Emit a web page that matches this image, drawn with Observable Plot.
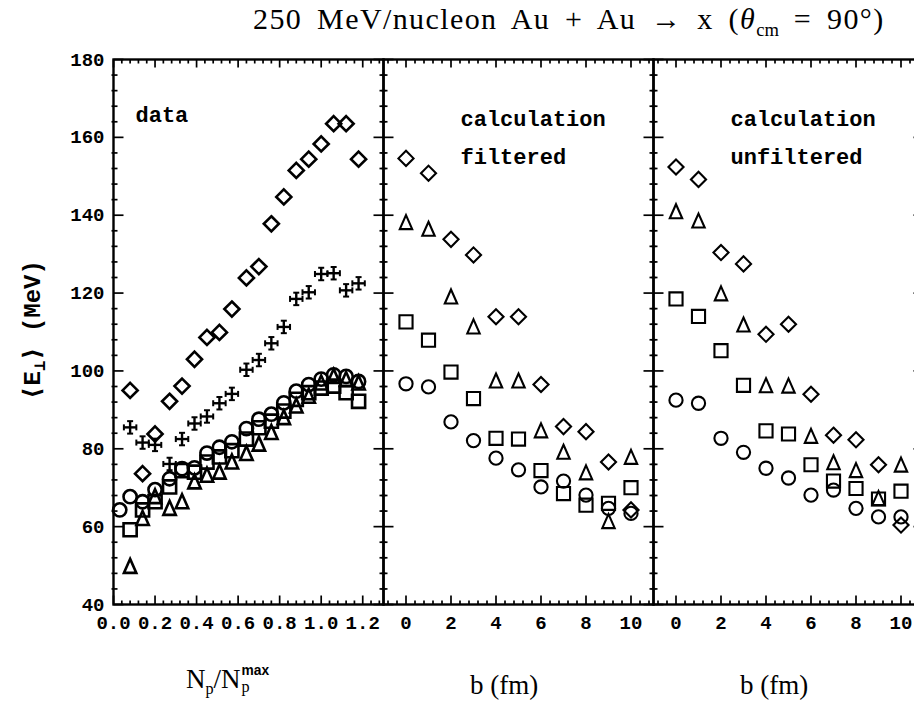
<!DOCTYPE html>
<html><head><meta charset="utf-8">
<script src="https://cdn.jsdelivr.net/npm/d3@7"></script>
<script src="https://cdn.jsdelivr.net/npm/@observablehq/plot@0.6"></script>
<style>
body{margin:0;background:#fff;}
#wrap{position:relative;width:914px;height:713px;overflow:hidden;background:#fff;}
#wrap svg{position:absolute;top:0;overflow:visible;}
.serif{position:absolute;font-family:"Liberation Serif","DejaVu Serif",serif;color:#000;white-space:nowrap;}
.mono{position:absolute;font-family:"Liberation Mono","DejaVu Sans Mono",monospace;font-weight:bold;color:#000;white-space:nowrap;}
.stack{display:inline-flex;flex-direction:column;vertical-align:middle;line-height:1.15;font-size:0.6em;margin-left:1px;position:relative;top:-2px;}
</style></head><body><div id="wrap"></div><script>
// ---------- data ----------
const yTicks = [40, 60, 80, 100, 120, 140, 160, 180];
const npTicks = [0.0, 0.2, 0.4, 0.6, 0.8, 1.0, 1.2];
const bTicks = [0, 2, 4, 6, 8, 10];

// panel 1: data vs N_p / N_p^max
const npBins       = [0.03, 0.08, 0.14, 0.20, 0.27, 0.33, 0.39, 0.45, 0.51, 0.57, 0.64, 0.70, 0.76, 0.82, 0.88, 0.94, 1.00, 1.06, 1.12, 1.18];
const dataDiamond  = [null, 95.0, 73.6, 83.8, 92.2, 96.1, 103.0, 108.6, 109.9, 115.9, 123.9, 126.8, 137.8, 144.7, 151.5, 154.4, 158.3, 163.5, 163.5, 154.4];
const dataCross    = [null, 85.5, 81.6, 81.0, 76.1, 82.5, 86.5, 88.3, 91.7, 94.1, 100.3, 102.8, 107.1, 111.3, 118.5, 120.2, 124.9, 125.1, 120.7, 122.5];
const dataCircle   = [64.3, 67.7, 66.4, 69.5, 72.3, 74.9, 75.1, 78.9, 80.4, 81.8, 85.2, 87.6, 88.9, 91.8, 94.8, 96.5, 97.9, 99.0, 98.6, 97.3];
const dataSquare   = [null, 59.2, 64.3, 66.4, 70.2, 74.4, 74.0, 76.6, 77.9, 79.5, 82.5, 85.4, 87.1, 89.7, 92.7, 94.4, 95.6, 96.1, 94.4, 92.2];
const dataTriangle = [null, 49.8, 62.1, 67.7, 64.7, 66.4, 71.5, 73.2, 74.0, 76.6, 78.8, 81.2, 84.2, 88.0, 91.0, 93.5, 96.9, 98.6, 97.8, 96.9];
const crossXErr = 0.03, crossYErr = 1.6;

// panels 2 and 3: calculation vs impact parameter b (fm)
const bValues      = [0, 1, 2, 3, 4, 5, 6, 7, 8, 9, 10];
const filtDiamond  = [154.6, 150.8, 133.8, 129.8, 113.9, 113.9, 96.5, 85.7, 84.4, 76.6, 64.3];
const filtTriangle = [138.1, 136.4, 119.0, 111.3, 97.4, 97.4, 84.6, 79.1, 73.8, 61.3, 77.8];
const filtSquare   = [112.6, 107.9, 99.7, 92.9, 82.7, 82.5, 74.4, 68.5, 65.5, 66.0, 70.0];
const filtCircle   = [96.7, 95.9, 86.9, 82.1, 77.6, 74.6, 70.2, 71.7, 68.1, 64.7, 63.4];
const unfDiamond   = [152.4, 149.2, 130.4, 127.5, 109.4, 112.0, 94.0, 83.5, 82.3, 75.9, 60.4];
const unfTriangle  = [140.9, 138.5, 119.8, 111.8, 96.2, 96.1, 83.2, 76.4, 74.4, 67.2, 75.8];
const unfSquare    = [118.5, 114.0, 105.2, 96.3, 84.6, 83.8, 75.9, 71.7, 69.8, 67.1, 69.1];
const unfCircle    = [92.5, 91.7, 82.7, 79.1, 75.0, 72.5, 68.1, 69.4, 64.7, 62.5, 62.5];

// ---------- helpers ----------
const rows = (xs, ys) => xs.map((x, i) => ({x, y: ys[i]})).filter(d => d.y != null);
const seg = (x1, y1, x2, y2) => ({draw(c) { c.moveTo(x1, y1); c.lineTo(x2, y2); }});
const tri = {draw(c) { c.moveTo(0, -7.5); c.lineTo(6.2, 6.5); c.lineTo(-6.2, 6.5); c.closePath(); }};
const yMinor = d3.range(40, 181, 4).filter(v => v % 20 !== 0);

function frameTicks(xMajor, xMinor) {
  const o = {stroke: "black", fill: "none", strokeWidth: 1.7};
  return [
    Plot.dot(yTicks, {y: d => d, frameAnchor: "left", symbol: seg(0, 0, 10, 0), ...o}),
    Plot.dot(yMinor, {y: d => d, frameAnchor: "left", symbol: seg(-2, 0, 4, 0), ...o}),
    Plot.dot(yTicks, {y: d => d, frameAnchor: "right", symbol: seg(0, 0, -10, 0), ...o}),
    Plot.dot(yMinor, {y: d => d, frameAnchor: "right", symbol: seg(2, 0, -4, 0), ...o}),
    Plot.dot(xMajor, {x: d => d, frameAnchor: "top", symbol: seg(0, 0, 0, 8), ...o}),
    Plot.dot(xMinor, {x: d => d, frameAnchor: "top", symbol: seg(0, 0, 0, 4), ...o}),
    Plot.dot(xMajor, {x: d => d, frameAnchor: "bottom", symbol: seg(0, 0, 0, -9), ...o}),
    Plot.dot(xMinor, {x: d => d, frameAnchor: "bottom", symbol: seg(0, 0, 0, -4), ...o}),
    Plot.frame({stroke: "black", strokeWidth: 2.4})
  ];
}

function markerSet(xs, circ, sq, tr, dia, sw) {
  const o = {x: "x", y: "y", stroke: "black", fill: "none", strokeWidth: sw};
  return [
    Plot.dot(rows(xs, circ), {...o, symbol: "circle", r: 6.6}),
    Plot.dot(rows(xs, sq), {...o, symbol: "square", r: 7.4}),
    Plot.dot(rows(xs, tr), {...o, symbol: tri, strokeLinejoin: "miter"}),
    Plot.dot(rows(xs, dia), {...o, symbol: "diamond2", r: 6.8})
  ];
}

const txt = {fontFamily: "Liberation Mono, DejaVu Sans Mono, monospace", fontWeight: "bold", fontSize: 22, textAnchor: "start", fill: "black"};
const baseStyle = {background: "transparent", overflow: "visible", fontFamily: "Liberation Mono, DejaVu Sans Mono, monospace", fontWeight: "bold", fontSize: "19px", color: "black"};
const H = 660, MT = 59, MB = 56;
const yScale = {domain: [40, 180], ticks: yTicks, tickSize: 0, tickPadding: 9, label: null};

// ---------- panel 1: data ----------
const crossRows = rows(npBins, dataCross);
const p1 = Plot.plot({
  width: 403, height: H, marginLeft: 113, marginRight: 20, marginTop: MT, marginBottom: MB,
  style: baseStyle,
  x: {domain: [0, 1.30], ticks: npTicks, tickFormat: d => d.toFixed(1), tickSize: 0, tickPadding: 11, label: null},
  y: yScale,
  marks: [
    ...frameTicks(npTicks, d3.range(0, 1.30, 0.04).filter(v => Math.abs(v / 0.2 - Math.round(v / 0.2)) > 0.01)),
    ...markerSet(npBins, dataCircle, dataSquare, dataTriangle, dataDiamond, 2.6),
    Plot.link(crossRows, {x1: d => d.x - crossXErr, x2: d => d.x + crossXErr, y1: "y", y2: "y", stroke: "black", strokeWidth: 2.4}),
    Plot.link(crossRows, {x1: "x", x2: "x", y1: d => d.y - crossYErr, y2: d => d.y + crossYErr, stroke: "black", strokeWidth: 2.4}),
    Plot.dot(crossRows, {x: d => d.x - crossXErr, y: "y", symbol: seg(0, -3, 0, 3), stroke: "black", strokeWidth: 2}),
    Plot.dot(crossRows, {x: d => d.x + crossXErr, y: "y", symbol: seg(0, -3, 0, 3), stroke: "black", strokeWidth: 2}),
    Plot.dot(crossRows, {x: "x", y: d => d.y - crossYErr, symbol: seg(-3, 0, 3, 0), stroke: "black", strokeWidth: 2}),
    Plot.dot(crossRows, {x: "x", y: d => d.y + crossYErr, symbol: seg(-3, 0, 3, 0), stroke: "black", strokeWidth: 2}),
    Plot.text(["data"], {text: d => d, frameAnchor: "top-left", dx: 22, dy: 47, ...txt})
  ]
});

// ---------- panels 2 and 3: calculation ----------
function calcPanel(lines, circ, sq, tr, dia) {
  return Plot.plot({
    width: 310, height: H, marginLeft: 20, marginRight: 20, marginTop: MT, marginBottom: MB,
    style: baseStyle,
    x: {domain: [-1, 11], ticks: bTicks, tickSize: 0, tickPadding: 11, label: null},
    y: {...yScale, axis: null},
    marks: [
      ...frameTicks(bTicks, d3.range(-0.8, 11, 0.4).filter(v => Math.abs(v / 2 - Math.round(v / 2)) > 0.01)),
      ...markerSet(bValues, circ, sq, tr, dia, 2.1),
      Plot.text([lines[0]], {text: d => d, frameAnchor: "top-left", dx: 77, dy: 51, ...txt}),
      Plot.text([lines[1]], {text: d => d, frameAnchor: "top-left", dx: 77, dy: 89, ...txt})
    ]
  });
}
const p2 = calcPanel(["calculation", "filtered"], filtCircle, filtSquare, filtTriangle, filtDiamond);
const p3 = calcPanel(["calculation", "unfiltered"], unfCircle, unfSquare, unfTriangle, unfDiamond);

const wrap = document.getElementById("wrap");
[[p1, 0], [p2, 363], [p3, 633]].forEach(([p, left]) => { p.style.left = left + "px"; wrap.appendChild(p); });

// ---------- text outside the SVGs ----------
wrap.insertAdjacentHTML("beforeend", `
<div class="serif" style="left:253px;top:2px;font-size:30px;letter-spacing:1.4px;word-spacing:6px;">250 MeV/nucleon Au + Au → x (<i>θ</i><sub style="font-size:0.62em;letter-spacing:0">cm</sub> = 90°)</div>
<div class="mono" style="left:34px;top:330px;font-size:24px;transform:translate(-50%,-50%) rotate(-90deg);">⟨E<sub style="font-size:0.7em">⊥</sub>⟩ (MeV)</div>
<div class="serif" style="left:186px;top:664px;font-size:27px;">N<sub style="font-size:0.6em">p</sub>/N<span class="stack"><span style="font-family:'Liberation Sans';font-weight:bold;font-size:0.85em">max</span><span>p</span></span></div>
<div class="serif" style="left:470px;top:670px;font-size:27px;">b (fm)</div>
<div class="serif" style="left:740px;top:670px;font-size:27px;">b (fm)</div>
`);
</script></body></html>
